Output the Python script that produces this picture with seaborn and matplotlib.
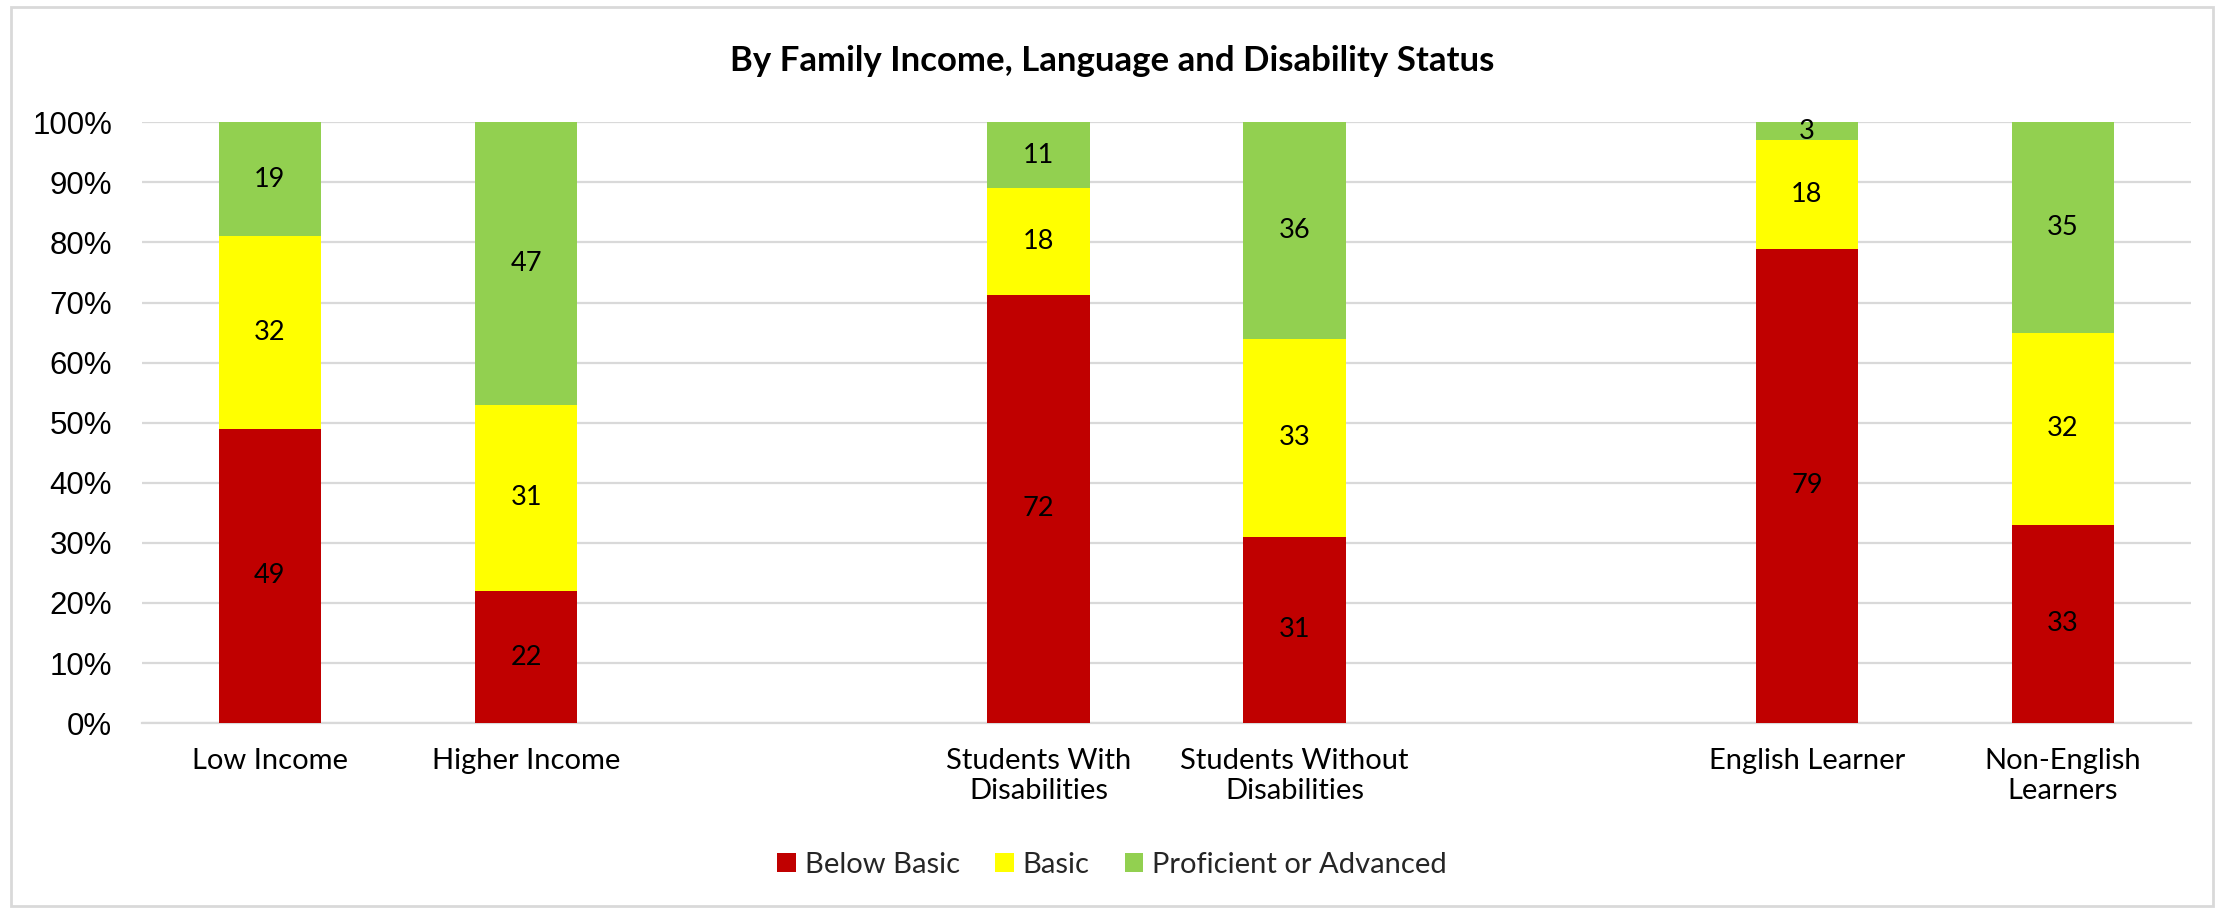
import numpy as np
import pandas as pd
import seaborn as sns
import matplotlib.pyplot as plt
from matplotlib.patches import Patch, Rectangle

# Student groups (blank slots separate the three comparisons)
categories = ["Low Income", "Higher Income",
              "Students With\nDisabilities", "Students Without\nDisabilities",
              "English Learner", "Non-English\nLearners"]
slot_order = ["Low Income", "Higher Income", " ",
              "Students With\nDisabilities", "Students Without\nDisabilities", "  ",
              "English Learner", "Non-English\nLearners"]

# Achievement level percentages
below_basic = [49, 22, 72, 31, 79, 33]
basic = [32, 31, 18, 33, 18, 32]
proficient = [19, 47, 11, 36, 3, 35]

level_names = ["Below Basic", "Basic", "Proficient or Advanced"]
level_colors = ["#C00000", "#FFFF00", "#92D050"]

sns.set_theme(style="white")
plt.rcParams["font.family"] = ["Lato", "DejaVu Sans"]

df = pd.DataFrame({"group": categories,
                   "below": below_basic, "basic": basic, "prof": proficient})
total = df[["below", "basic", "prof"]].sum(axis=1)
df["s_below"] = df["below"] / total
df["s_basic"] = df["basic"] / total
df["s_prof"] = df["prof"] / total
df["c1"] = df["s_below"]
df["c2"] = df["s_below"] + df["s_basic"]
df["c3"] = df["c2"] + df["s_prof"]

fig = plt.figure(figsize=(22.24, 9.13), dpi=100)
ax = fig.add_axes([0.0638, 0.208, 0.9214, 0.658])

# stacked bars drawn as overlapping cumulative layers, tallest first
for col, color in zip(["c3", "c2", "c1"], level_colors[::-1]):
    sns.barplot(data=df, x="group", y=col, order=slot_order, color=color,
                width=0.4, saturation=1, ax=ax, zorder=3, linewidth=0)

# segment value labels
pos = {name: i for i, name in enumerate(slot_order)}
for _, row in df.iterrows():
    x = pos[row["group"]]
    bottoms = [0, row["c1"], row["c2"]]
    tops = [row["c1"], row["c2"], row["c3"]]
    vals = [row["below"], row["basic"], row["prof"]]
    for b, t, v in zip(bottoms, tops, vals):
        ax.text(x, (b + t) / 2, f"{v:d}", ha="center", va="center",
                fontsize=19.5, color="black", zorder=5)

ax.set_xlim(-0.5, len(slot_order) - 0.5)
ax.set_ylim(0, 1)
yticks = np.arange(0, 1.01, 0.1)
ax.set_yticks(yticks)
ax.set_yticklabels([f"{int(round(v * 100))}%" for v in yticks],
                   fontfamily="Liberation Sans")
ax.set_xlabel("")
ax.set_ylabel("")
ax.yaxis.grid(True, color="#D9D9D9", linewidth=1.6, zorder=0)
ax.set_axisbelow(True)
for s in ["top", "right", "left"]:
    ax.spines[s].set_visible(False)
ax.spines["bottom"].set_color("#D9D9D9")
ax.spines["bottom"].set_linewidth(1.6)
ax.tick_params(axis="y", length=0, pad=21.5, labelsize=22.5, labelcolor="black")
ax.tick_params(axis="x", length=0, pad=18, labelsize=21, labelcolor="black")

fig.text(0.5, 0.933, "By Family Income, Language and Disability Status",
         ha="center", va="center", fontsize=25, fontweight="bold", color="black")

handles = [Patch(facecolor=c, edgecolor="none", label=n)
           for n, c in zip(level_names, level_colors)]
fig.legend(handles=handles, loc="center", bbox_to_anchor=(0.5, 0.053), ncol=3,
           frameon=False, fontsize=21, handlelength=0.65, handleheight=0.65,
           handletextpad=0.3, columnspacing=1.2)

fig.patches.append(Rectangle((0.005, 0.008), 0.99, 0.984, transform=fig.transFigure,
                             fill=False, edgecolor="#D9D9D9", linewidth=2))

fig.savefig("out.png", dpi=100, facecolor="white")
